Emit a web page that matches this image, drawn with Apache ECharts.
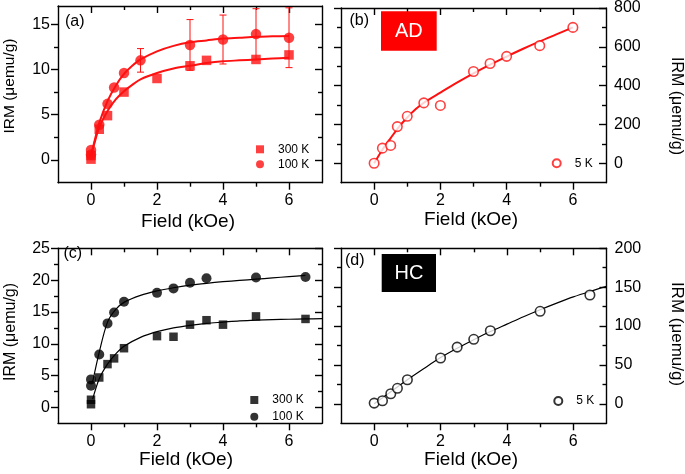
<!DOCTYPE html>
<html>
<head>
<meta charset="utf-8">
<script src="https://cdn.jsdelivr.net/npm/echarts@6/dist/echarts.min.js"></script>
<style>html,body{margin:0;padding:0;background:#fff}#c{width:685px;height:474px}</style>
</head>
<body>
<div id="c"></div>
<script>
// ---- data ----
// (a) AD, red
const aX300 = [0, 0, 0.25, 0.5, 1, 2, 3, 3.5, 5, 6];
const aY300 = [0.1, 0.5, 3.4, 4.9, 7.5, 9.0, 10.4, 11.0, 11.1, 11.6];
const aX100 = [0, 0, 0.25, 0.5, 0.7, 1, 1.5, 3, 4, 5, 6];
const aY100 = [0.6, 1.1, 3.9, 6.2, 8.0, 9.6, 11.0, 12.7, 13.3, 13.9, 13.5];
const aErr100 = [0, 0, 0, 0, 0, 0, 1.3, 2.8, 2.7, 2.8, 3.3];
const fitAX = [0, 0.1, 0.25, 0.5, 0.75, 1, 1.25, 1.5, 2, 2.5, 3, 3.5, 4, 4.5, 5, 5.5, 6];
const fitA100 = [0.6, 2.0, 4.1, 6.5, 8.2, 9.5, 10.4, 11.1, 12.0, 12.6, 13.0, 13.2, 13.4, 13.5, 13.6, 13.65, 13.7];
const fitA300 = [0.4, 1.8, 3.6, 5.4, 6.7, 7.6, 8.3, 8.9, 9.6, 10.1, 10.4, 10.7, 10.9, 11.0, 11.1, 11.2, 11.3];
// (b) AD 5 K
const bX = [0, 0.25, 0.5, 0.7, 1, 1.5, 2, 3, 3.5, 4, 5, 6];
const bY = [0, 78, 92, 189, 242, 311, 298, 473, 514, 551, 606, 700];
const fitBX = [0, 0.25, 0.5, 0.75, 1, 1.25, 1.5, 2, 2.5, 3, 3.5, 4, 4.5, 5, 5.5, 6];
const fitBY = [0, 70, 130, 188, 236, 278, 312, 364, 415, 463, 508, 550, 590, 628, 664, 700];
// (c) HC, black
const cX100 = [0, 0, 0.25, 0.5, 0.7, 1, 2, 2.5, 3, 3.5, 5, 6.5];
const cY100 = [4.4, 3.4, 8.3, 13.2, 14.9, 16.6, 18.0, 18.7, 19.6, 20.3, 20.4, 20.5];
const cX300 = [0, 0, 0.25, 0.5, 0.7, 1, 2, 2.5, 3, 3.5, 4, 5, 6.5];
const cY300 = [0.5, 1.2, 4.7, 6.8, 7.7, 9.3, 11.2, 11.1, 13.0, 13.7, 13.0, 14.3, 13.9];
const fitC100X = [0.05, 0.25, 0.5, 0.75, 1, 1.5, 2, 2.5, 3, 3.5, 4, 4.5, 5, 5.5, 6, 6.5];
const fitC100Y = [4.0, 8.7, 13.4, 15.4, 16.5, 17.6, 18.3, 18.8, 19.2, 19.5, 19.75, 19.95, 20.15, 20.35, 20.55, 20.75];
const fitC300X = [0.05, 0.25, 0.5, 0.75, 1, 1.5, 2, 2.5, 3, 3.5, 4, 4.5, 5, 5.5, 6, 6.5, 7];
const fitC300Y = [1.3, 4.5, 6.8, 8.4, 9.6, 11.0, 11.9, 12.5, 12.9, 13.2, 13.4, 13.6, 13.7, 13.8, 13.85, 13.9, 13.95];
// (d) HC 5 K
const dX = [0, 0.25, 0.5, 0.7, 1, 2, 2.5, 3, 3.5, 5, 6.5];
const dY = [1, 4, 13, 20, 31, 59, 73, 83, 94, 119, 140];
const fitDX = [0, 0.5, 1, 1.5, 2, 2.5, 3, 3.5, 4, 4.5, 5, 5.5, 6, 6.5, 7];
const fitDY = [0, 15.5, 31, 45.5, 59.5, 71.5, 82.5, 93, 102.5, 112, 121, 129.5, 137.5, 144.5, 151];
// tick labels
const xMajor = [0, 2, 4, 6], xMinor = [1, 3, 5];
const aYMajor = [0, 5, 10, 15], aYMinor = [2.5, 7.5, 12.5];
const bYMajor = [0, 200, 400, 600, 800], bYMinor = [100, 300, 500, 700];
const cYMajor = [0, 5, 10, 15, 20, 25], cYMinor = [2.5, 7.5, 12.5, 17.5, 22.5];
const dYMajor = [0, 50, 100, 150, 200], dYMinor = [25, 75, 125, 175];
const xTitle = 'Field (kOe)', yTitle = 'IRM (\u03bcemu/g)';

// ---- styling ----
const RED = '#ff1010', BLK = '#000';
const FONT = '"Liberation Sans", Arial, sans-serif';
const zip = (xs, ys) => xs.map((x, i) => [x, ys[i]]);

const grids = [
  {left: 58, top: 6, width: 264, height: 176.7},
  {left: 341, top: 6, width: 265, height: 176.7},
  {left: 58, top: 248.3, width: 264, height: 175},
  {left: 341, top: 248.3, width: 265.5, height: 175}
];
const yCfg = [
  {min: -2.5, max: 17, major: aYMajor, minor: aYMinor, side: 'left'},
  {min: -100, max: 800, major: bYMajor, minor: bYMinor, side: 'right'},
  {min: -2.5, max: 25, major: cYMajor, minor: cYMinor, side: 'left'},
  {min: -25, max: 200, major: dYMajor, minor: dYMinor, side: 'right'}
];
const xAxes = [], yAxes = [];
const lineStyle = {color: BLK, width: 1.4};
grids.forEach((g, gi) => {
  const base = {gridIndex: gi, type: 'value', min: -1, max: 7, splitLine: {show: false}};
  xAxes.push(Object.assign({}, base, {position: 'bottom', axisLine: {show: true, onZero: false, lineStyle},
    axisTick: {show: true, inside: false, length: 7, customValues: xMajor, lineStyle},
    axisLabel: {show: true, customValues: xMajor, margin: 10, fontSize: 16, color: BLK, fontFamily: FONT}}));
  xAxes.push(Object.assign({}, base, {position: 'bottom', axisLine: {show: false, onZero: false},
    axisTick: {show: true, inside: false, length: 4, customValues: xMinor, lineStyle}, axisLabel: {show: false}}));
  xAxes.push(Object.assign({}, base, {position: 'top', axisLine: {show: true, onZero: false, lineStyle},
    axisTick: {show: true, inside: true, length: 7, customValues: xMajor, lineStyle}, axisLabel: {show: false}}));
  xAxes.push(Object.assign({}, base, {position: 'top', axisLine: {show: false, onZero: false},
    axisTick: {show: true, inside: true, length: 4, customValues: xMinor, lineStyle}, axisLabel: {show: false}}));
  const c = yCfg[gi];
  const yb = {gridIndex: gi, type: 'value', min: c.min, max: c.max, splitLine: {show: false}};
  const lblOn = (side) => c.side === side ?
    {show: true, customValues: c.major, margin: 8, fontSize: 16, color: BLK, fontFamily: FONT} : {show: false};
  // left axis: ticks outward; right axis: ticks inward
  yAxes.push(Object.assign({}, yb, {position: 'left', axisLine: {show: true, onZero: false, lineStyle},
    axisTick: {show: true, inside: false, length: 7, customValues: c.major, lineStyle}, axisLabel: lblOn('left')}));
  yAxes.push(Object.assign({}, yb, {position: 'left', axisLine: {show: false, onZero: false},
    axisTick: {show: true, inside: false, length: 4, customValues: c.minor, lineStyle}, axisLabel: {show: false}}));
  yAxes.push(Object.assign({}, yb, {position: 'right', axisLine: {show: true, onZero: false, lineStyle},
    axisTick: {show: true, inside: true, length: 7, customValues: c.major, lineStyle}, axisLabel: lblOn('right')}));
  yAxes.push(Object.assign({}, yb, {position: 'right', axisLine: {show: false, onZero: false},
    axisTick: {show: true, inside: true, length: 4, customValues: c.minor, lineStyle}, axisLabel: {show: false}}));
});

function fit(gi, xs, ys, color, width) {
  return {type: 'line', xAxisIndex: gi * 4, yAxisIndex: gi * 4, data: zip(xs, ys), smooth: 0.3,
    showSymbol: false, symbol: 'none', silent: true, lineStyle: {color, width}, z: 2};
}
function pts(gi, name, xs, ys, symbol, size, style) {
  return {name, type: 'scatter', xAxisIndex: gi * 4, yAxisIndex: gi * 4, data: zip(xs, ys),
    symbol, symbolSize: size, itemStyle: style, z: 4};
}
const errData = aX100.map((x, i) => [x, aY100[i], aErr100[i]]).filter(d => d[2] > 0);

const series = [
  fit(0, fitAX, fitA300, RED, 2),
  fit(0, fitAX, fitA100, RED, 2),
  {type: 'custom', xAxisIndex: 0, yAxisIndex: 0, data: errData, encode: {x: 0, y: 1}, z: 3, silent: true,
    renderItem: function (params, api) {
      const x = api.value(0), y = api.value(1), e = api.value(2);
      const t = api.coord([x, y + e]), b = api.coord([x, y - e]);
      const w = 3.5, st = {stroke: RED, lineWidth: 1};
      return {type: 'group', children: [
        {type: 'line', shape: {x1: t[0], y1: t[1], x2: b[0], y2: b[1]}, style: st},
        {type: 'line', shape: {x1: t[0] - w, y1: t[1], x2: t[0] + w, y2: t[1]}, style: st},
        {type: 'line', shape: {x1: b[0] - w, y1: b[1], x2: b[0] + w, y2: b[1]}, style: st}
      ]};
    }},
  pts(0, 'a300', aX300, aY300, 'rect', 9.5, {color: RED}),
  pts(0, 'a100', aX100, aY100, 'circle', 10.5, {color: RED}),
  fit(1, fitBX, fitBY, RED, 2),
  pts(1, 'b5', bX, bY, 'circle', 9.5, {color: '#fff', borderColor: RED, borderWidth: 1.6}),
  fit(2, fitC300X, fitC300Y, BLK, 1.2),
  fit(2, fitC100X, fitC100Y, BLK, 1.2),
  pts(2, 'c300', cX300, cY300, 'rect', 8.5, {color: BLK}),
  pts(2, 'c100', cX100, cY100, 'circle', 10, {color: BLK}),
  fit(3, fitDX, fitDY, BLK, 1.2),
  pts(3, 'd5', dX, dY, 'circle', 9.5, {color: '#fff', borderColor: BLK, borderWidth: 1.6})
];

const legendNames = {a300: '300 K', a100: '100 K', b5: '5 K', c300: '300 K', c100: '100 K', d5: '5 K'};
function legend(names, left, top, gap, icon) {
  return {data: names.map((n, i) => ({name: n, icon: icon[i]})),
    orient: 'vertical', left, top, itemWidth: 8, itemHeight: 8, itemGap: gap,
    selectedMode: false, formatter: n => legendNames[n],
    textStyle: {fontSize: 12, lineHeight: 12, color: BLK, fontFamily: FONT, padding: [0, 0, 0, 9]}};
}
const legends = [
  legend(['a300', 'a100'], 251, 138.3, 3, ['rect', 'circle']),
  legend(['b5'], 546.7, 152.3, 3, ['circle']),
  legend(['c300', 'c100'], 245.3, 389, 4.7, ['rect', 'circle']),
  legend(['d5'], 548.3, 390, 3, ['circle'])
];

function txt(text, x, y, size, opts) {
  return Object.assign({type: 'text', x, y, style: {text, fontSize: size, fontFamily: FONT, fill: BLK,
    align: 'center', verticalAlign: 'middle'}, z: 10}, opts || {});
}
const graphic = [
  txt(xTitle, 188, 221.5, 19),
  txt(xTitle, 471, 220, 19),
  txt(xTitle, 186, 460, 19),
  txt(xTitle, 471, 460, 19),
  txt(yTitle, 10, 86, 15.5, {rotation: Math.PI / 2}),
  txt(yTitle, 11, 332, 16, {rotation: Math.PI / 2}),
  txt(yTitle, 676, 106, 16, {rotation: -Math.PI / 2}),
  txt(yTitle, 677, 334, 17, {rotation: -Math.PI / 2}),
  {type: 'text', x: 65, y: 21.7, style: {text: '(a)', fontSize: 16, fontFamily: FONT, fill: BLK, verticalAlign: 'middle'}, z: 10},
  {type: 'text', x: 349.5, y: 20.7, style: {text: '(b)', fontSize: 16, fontFamily: FONT, fill: BLK, verticalAlign: 'middle'}, z: 10},
  {type: 'text', x: 63.5, y: 254, style: {text: '(c)', fontSize: 16, fontFamily: FONT, fill: BLK, verticalAlign: 'middle'}, z: 10},
  {type: 'text', x: 345, y: 260.7, style: {text: '(d)', fontSize: 16, fontFamily: FONT, fill: BLK, verticalAlign: 'middle'}, z: 10},
  {type: 'rect', shape: {x: 381, y: 11.3, width: 55.7, height: 39.4}, style: {fill: '#ff0000'}, z: 10},
  txt('AD', 408.8, 31.2, 20, {style: {text: 'AD', fontSize: 20, fontFamily: FONT, fill: '#fff', align: 'center', verticalAlign: 'middle'}, z: 11}),
  {type: 'rect', shape: {x: 381.7, y: 254, width: 54.3, height: 38}, style: {fill: '#000'}, z: 10},
  txt('HC', 409, 273, 20, {style: {text: 'HC', fontSize: 20, fontFamily: FONT, fill: '#fff', align: 'center', verticalAlign: 'middle'}, z: 11})
];

const chart = echarts.init(document.getElementById('c'), null, {renderer: 'canvas'});
chart.setOption({
  animation: false,
  backgroundColor: '#fff',
  textStyle: {fontFamily: FONT},
  grid: grids.map(g => Object.assign({containLabel: false}, g)),
  xAxis: xAxes,
  yAxis: yAxes,
  legend: legends,
  series,
  graphic
});
</script>
</body>
</html>
